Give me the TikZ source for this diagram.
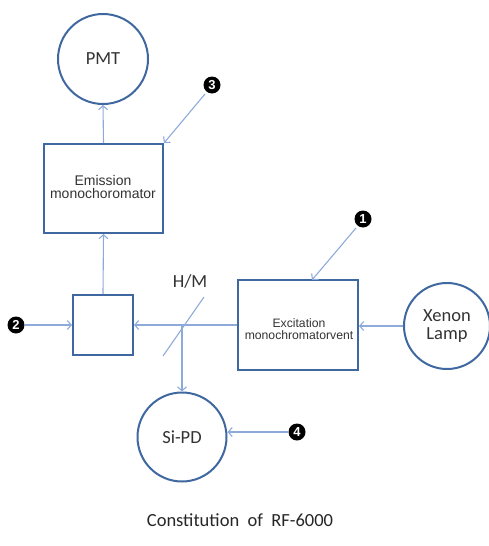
\documentclass[tikz,border=0pt]{standalone}
\usepackage{fontspec}
\setmainfont{Carlito}
\newfontfamily\arialf{Liberation Sans}
\usetikzlibrary{arrows.meta}
\definecolor{boxblue}{HTML}{3F68A0}
\definecolor{arrblue}{HTML}{8EAADB}
\tikzset{
  boxst/.style={draw=boxblue, line width=2pt, inner sep=0pt},
  circst/.style={draw=boxblue, line width=2pt, circle, inner sep=0pt, font=\fontsize{18.5}{20}\selectfont, align=center, text=black!80},
  arr/.style={draw=arrblue, line width=1.1pt, -{Straight Barb[length=4pt,width=9pt]}},
  marker/.style={circle, fill=black, text=white, minimum size=17pt, inner sep=0pt, font=\arialf\fontsize{13}{13}\selectfont\bfseries},
  boxtext/.style={font=\arialf, text=black!80, align=center}
}
\begin{document}
\begin{tikzpicture}[x=1pt,y=-1pt]
\useasboundingbox (0,0) rectangle (488,546);
% circles
\node[circst, minimum size=90pt] (pmt) at (103,59) {PMT};
\node[circst, minimum size=86pt] (xenon) at (447,326) {Xenon\\[-2pt]Lamp};
\node[circst, minimum size=89pt] (sipd) at (182,437) {Si-PD};
% boxes
\node[boxst, minimum width=119pt, minimum height=89pt] (emi) at (103.5,188.5) {};
\node[boxtext, font=\arialf\fontsize{14}{13.5}\selectfont] at (103,187) {Emission\\monochoromator};
\node[boxst, minimum width=120pt, minimum height=90pt] (exc) at (298,325) {};
\node[boxtext, font=\arialf\fontsize{12.2}{12}\selectfont] at (299,329) {Excitation\\monochromatorvent};
\node[boxst, minimum width=60pt, minimum height=60pt] (small) at (103,325) {};
% mirror
\coordinate (mA) at (163,356);
\coordinate (mB) at (204,297);
\coordinate (mC) at (182,325);
\draw[draw=arrblue, line width=1.1pt] (mA) -- (mB);
\node[font=\fontsize{18.5}{20}\selectfont, text=black!80] (hm) at (190,281) {H/M};
% markers
\node[marker] (m1) at (363,219) {1};
\node[marker] (m2) at (16,325) {2};
\node[marker] (m3) at (212,85) {3};
\node[marker] (m4) at (297,432) {4};
% arrows
\draw[arr] (emi.north) -- (pmt.south);
\draw[arr] (small.north) -- (emi.south);
\draw[arr] (xenon.west) -- (exc.east |- xenon.west);
\draw[arr] (exc.west |- small.east) -- (small.east);
\draw[arr] (mC) -- (sipd.north);
\draw[arr] (m1) ++(-7,9) -- (312,280);
\draw[arr] (m3) ++(-7,9) -- (emi.north east);
\draw[arr] (m2.east) -- (small.west);
\draw[arr] (m4.west) -- (sipd.east |- m4.west);
% caption
\node[font=\fontsize{18.5}{20}\selectfont, text=black!85] (cap) at (240,520) {Constitution\ \ of\ \ RF-6000};
\end{tikzpicture}
\end{document}
